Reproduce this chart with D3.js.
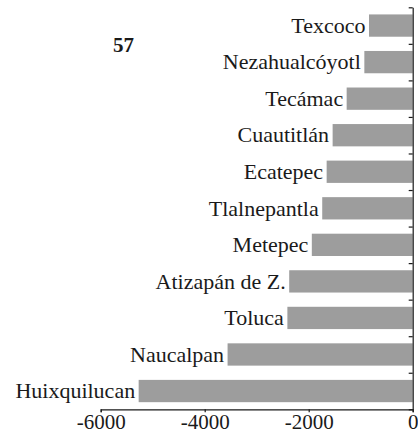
<!DOCTYPE html>
<html>
<head>
<meta charset="utf-8">
<script src="https://cdn.jsdelivr.net/npm/d3@7"></script>
<style>
  html, body { margin: 0; padding: 0; background: #fff; }
  svg { display: block; }
</style>
</head>
<body>
<svg id="chart" width="418" height="434"></svg>
<script>
// Municipalities, top to bottom
const municipios = [
  "Texcoco", "Nezahualcóyotl", "Tecámac", "Cuautitlán", "Ecatepec",
  "Tlalnepantla", "Metepec", "Atizapán de Z.", "Toluca", "Naucalpan", "Huixquilucan"
];
// Value per municipality (negative, bars run leftward from zero)
const valores = [-840, -930, -1270, -1540, -1655, -1740, -1940, -2375, -2410, -3560, -5270];
const xTicks = [-6000, -4000, -2000, 0];
const panelLabel = "57";

const serif = "'Liberation Serif', 'DejaVu Serif', 'Times New Roman', serif";
const ink = "#1a1a1a";

const svg = d3.select("#chart").attr("font-family", serif);
const plotLeft = 100.7, plotRight = 412.7, plotTop = 7.3, plotBottom = 409.3;

const x = d3.scaleLinear().domain([-6000, 0]).range([plotLeft, plotRight]);
const y = d3.scaleBand().domain(municipios).range([plotTop, plotBottom]).paddingInner(0.39).paddingOuter(0.195);
// band boundaries for the category-axis tick marks
const yEdge = d3.scaleLinear().domain([0, municipios.length]).range([plotTop, plotBottom]);

const rows = municipios.map((m, i) => ({ name: m, value: valores[i] }));

svg.append("g").selectAll("rect").data(rows).join("rect")
  .attr("x", d => x(d.value))
  .attr("y", d => y(d.name))
  .attr("width", d => x(0) - x(d.value))
  .attr("height", y.bandwidth())
  .attr("fill", "#9d9d9d");

svg.append("g").selectAll("text").data(rows).join("text")
  .attr("x", d => x(d.value) - 3.5)
  .attr("y", d => y(d.name) + y.bandwidth() / 2)
  .attr("dy", "0.33em")
  .attr("text-anchor", "end")
  .attr("font-family", serif)
  .attr("font-size", 22)
  .attr("fill", ink)
  .text(d => d.name);

// category axis at zero
const yAxis = svg.append("g").attr("transform", `translate(${x(0)},0)`)
  .call(d3.axisLeft(yEdge).tickValues(d3.range(municipios.length + 1)).tickFormat("").tickSize(4).tickSizeOuter(0));
yAxis.selectAll("path, line").attr("stroke", ink).attr("stroke-width", 1.2);

// value axis
const xAxis = svg.append("g").attr("transform", `translate(0,${plotBottom})`)
  .call(d3.axisBottom(x).tickValues(xTicks).tickFormat(d3.format("d")).tickSize(3).tickSizeOuter(3).tickPadding(2));
xAxis.attr("font-family", serif).attr("font-size", 21);
xAxis.selectAll("path, line").attr("stroke", ink).attr("stroke-width", 1.2);
xAxis.selectAll("text").attr("fill", ink)
  .text(d => d < 0 ? "-" + Math.abs(d) : d);

svg.append("text")
  .attr("x", 123.5).attr("y", 52)
  .attr("text-anchor", "middle")
  .attr("font-family", serif)
  .attr("font-size", 21)
  .attr("font-weight", "bold")
  .attr("fill", ink)
  .text(panelLabel);
</script>
</body>
</html>
